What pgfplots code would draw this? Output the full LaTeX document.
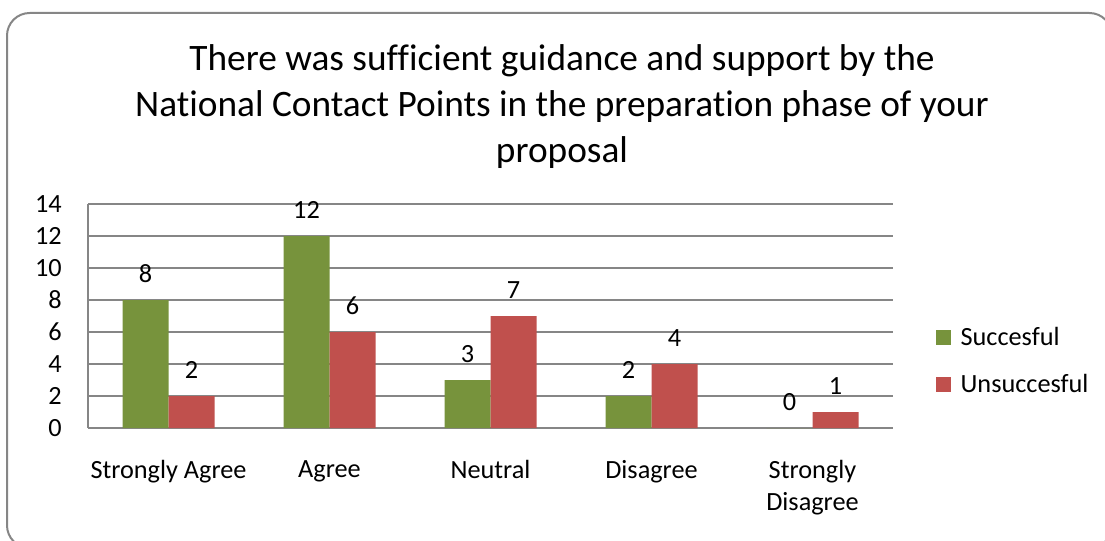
\documentclass[border=0pt]{standalone}
\usepackage{fontspec}
\setmainfont{Carlito}[Ligatures=CommonOff]
\usepackage{pgfplots}
\pgfplotsset{compat=1.18}
\definecolor{sgreen}{RGB}{119,147,60}
\definecolor{ured}{RGB}{192,80,77}
\definecolor{gridgray}{RGB}{134,134,134}
\begin{document}
\begin{tikzpicture}
\useasboundingbox (0,0) rectangle (828.75pt,405pt);
\draw[gridgray, line width=1.5pt, rounded corners=17pt] (5.25pt,-6pt) rectangle (834pt,395.25pt);
\node[align=center, font=\fontsize{28pt}{34.5pt}\selectfont] at (421.5pt,325pt)
  {There was sufficient guidance and support by the\\National Contact Points in the preparation phase of your\\proposal};
\begin{axis}[
  at={(66pt,84pt)}, anchor=south west,
  scale only axis, width=603.75pt, height=168pt,
  ybar=0pt, bar width=34.5pt,
  xmin=-0.5, xmax=4.5, ymin=0, ymax=14,
  xtick={0,1,2,3,4},
  xticklabels={Strongly Agree, Agree, Neutral, Disagree, {Strongly\\Disagree}},
  ytick={0,2,...,14},
  ymajorgrids, major grid style={gridgray, line width=1pt},
  axis x line*=bottom, axis y line*=left,
  axis line style={-, gridgray, line width=1pt},
  major tick length=0pt,
  /pgf/number format/assume math mode=true,
  tick label style={font=\fontsize{19.7pt}{24pt}\selectfont},
  yticklabel style={anchor=east, inner sep=0pt, xshift=-19.5pt},
  xticklabel style={anchor=north, inner sep=0pt, yshift=-24.25pt, align=center},
  nodes near coords,
  every node near coord/.append style={font=\fontsize{19.7pt}{24pt}\selectfont, anchor=center, yshift=19.5pt, text=black},
  legend style={at={(1.0534,0.300)}, anchor=west, draw=none, fill=none,
    font=\fontsize{19.7pt}{24pt}\selectfont, row sep=15pt, column sep=4.5pt, inner sep=0pt,
    nodes={inner sep=2.5pt}},
  legend cell align=left,
  legend image code/.code={\fill[#1] (0pt,-5.6pt) rectangle (11.25pt,5.6pt);},
]
\addplot[fill=sgreen, draw=none] coordinates {(0,8) (1,12) (2,3) (3,2) (4,0)};
\addplot[fill=ured, draw=none] coordinates {(0,2) (1,6) (2,7) (3,4) (4,1)};
\legend{Succesful, Unsuccesful}
\end{axis}
\end{tikzpicture}
\end{document}
